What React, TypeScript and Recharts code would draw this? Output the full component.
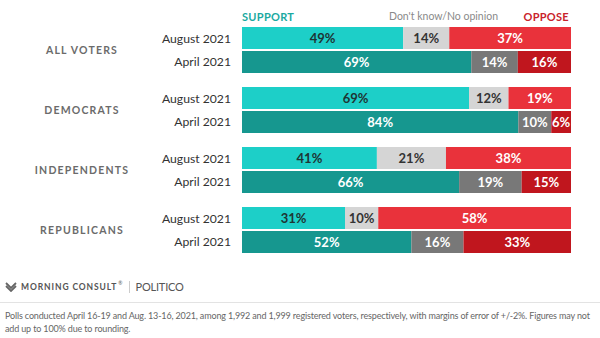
import React from 'react';
import { BarChart, Bar, XAxis, YAxis, LabelList } from 'recharts';

const groups = ['ALL VOTERS', 'DEMOCRATS', 'INDEPENDENTS', 'REPUBLICANS'];
const periods = ['August 2021', 'April 2021'];

const supportAug = [49, 69, 41, 31];
const unsureAug = [14, 12, 21, 10];
const opposeAug = [37, 19, 38, 58];

const supportApr = [69, 84, 66, 52];
const unsureApr = [14, 10, 19, 16];
const opposeApr = [16, 6, 15, 33];

const noteLines = [
  'Polls conducted April 16-19 and Aug. 13-16, 2021, among 1,992 and 1,999 registered voters, respectively, with margins of error of +/-2%. Figures may not',
  'add up to 100% due to rounding.',
];

const data = groups.map((group, i) => ({
  group,
  supportAug: supportAug[i],
  unsureAug: unsureAug[i],
  opposeAug: opposeAug[i],
  supportApr: supportApr[i],
  unsureApr: unsureApr[i],
  opposeApr: opposeApr[i],
}));

const FONT = 'Lato, "Open Sans", sans-serif';

// group name + the two poll dates, one tick per group band
const GroupTick = (props: any) => {
  const { y, payload } = props;
  return (
    <g>
      <text
        x={82}
        y={y}
        textAnchor="middle"
        dominantBaseline="central"
        fill="#6b6b6b"
        fontSize={10.5}
        fontWeight={700}
        letterSpacing={1.2}
        fontFamily={FONT}
      >
        {payload.value}
      </text>
      {periods.map((p, k) => (
        <text
          key={p}
          x={231}
          y={y + (k === 0 ? -11.5 : 11.5)}
          textAnchor="end"
          dominantBaseline="central"
          fill="#333"
          fontSize={12.2}
          fontFamily={FONT}
        >
          {p}
        </text>
      ))}
    </g>
  );
};

const pct = (v: any) => `${v}%`;

const series = [
  { key: 'supportAug', stack: 'aug', color: '#1dcfc8', text: '#1e3534' },
  { key: 'unsureAug', stack: 'aug', color: '#d5d5d5', text: '#333' },
  { key: 'opposeAug', stack: 'aug', color: '#e9323b', text: '#fff' },
  { key: 'supportApr', stack: 'apr', color: '#16978f', text: '#fff' },
  { key: 'unsureApr', stack: 'apr', color: '#787878', text: '#fff' },
  { key: 'opposeApr', stack: 'apr', color: '#c0161e', text: '#fff' },
];

export default function App() {
  return (
    <div
      style={{
        position: 'absolute',
        left: 0,
        top: 0,
        width: 600,
        height: 338,
        background: '#fff',
        fontFamily: FONT,
        overflow: 'hidden',
      }}
    >
      <div style={{ position: 'absolute', left: 242, top: 10, fontSize: 11, fontWeight: 700, color: '#1aa9a1', letterSpacing: 0.3 }}>
        SUPPORT
      </div>
      <div style={{ position: 'absolute', left: 389, top: 10, fontSize: 10.5, color: '#8a8a8a' }}>
        Don't know/No opinion
      </div>
      <div style={{ position: 'absolute', right: 31, top: 10, fontSize: 11, fontWeight: 700, color: '#c9222b', letterSpacing: 0.3 }}>
        OPPOSE
      </div>

      <div style={{ position: 'absolute', left: 0, top: 0 }}>
        <BarChart
          width={600}
          height={262}
          data={data}
          layout="vertical"
          stackOffset="expand"
          barSize={22}
          barGap={2}
          margin={{ top: 20, right: 29, bottom: 2, left: 0 }}
        >
          <XAxis type="number" hide domain={[0, 1]} />
          <YAxis
            type="category"
            dataKey="group"
            width={242}
            axisLine={false}
            tickLine={false}
            tick={<GroupTick />}
          />
          {series.map((s) => (
            <Bar key={s.key} dataKey={s.key} stackId={s.stack} fill={s.color} isAnimationActive={false}>
              <LabelList
                dataKey={s.key}
                position="center"
                formatter={pct}
                fill={s.text}
                fontSize={13}
                fontWeight={700}
                fontFamily={FONT}
              />
            </Bar>
          ))}
        </BarChart>
      </div>

      <div style={{ position: 'absolute', left: 5, top: 280, display: 'flex', alignItems: 'center', color: '#555' }}>
        <svg width={12} height={10} viewBox="0 0 12 10">
          <path d="M1 1 L6 6 L11 1 M1 4 L6 9 L11 4" stroke="#666" strokeWidth={1.8} fill="none" />
        </svg>
        <span style={{ marginLeft: 4, fontSize: 8.5, fontWeight: 700, letterSpacing: 0.9 }}>MORNING CONSULT</span>
        <span style={{ fontSize: 5, marginLeft: 1, alignSelf: 'flex-start' }}>®</span>
        <span style={{ width: 1, height: 12, background: '#ccc', margin: '0 6px 0 6px' }} />
        <span style={{ fontSize: 11, letterSpacing: -0.2 }}>POLITICO</span>
      </div>
      <div style={{ position: 'absolute', left: 0, top: 302, width: 600, height: 1, background: '#e3e3e3' }} />
      <div style={{ position: 'absolute', left: 5, top: 309, fontSize: 9, lineHeight: '13px', color: '#666', letterSpacing: -0.15, whiteSpace: 'nowrap' }}>
        {noteLines.map((l) => (
          <div key={l}>{l}</div>
        ))}
      </div>
    </div>
  );
}
